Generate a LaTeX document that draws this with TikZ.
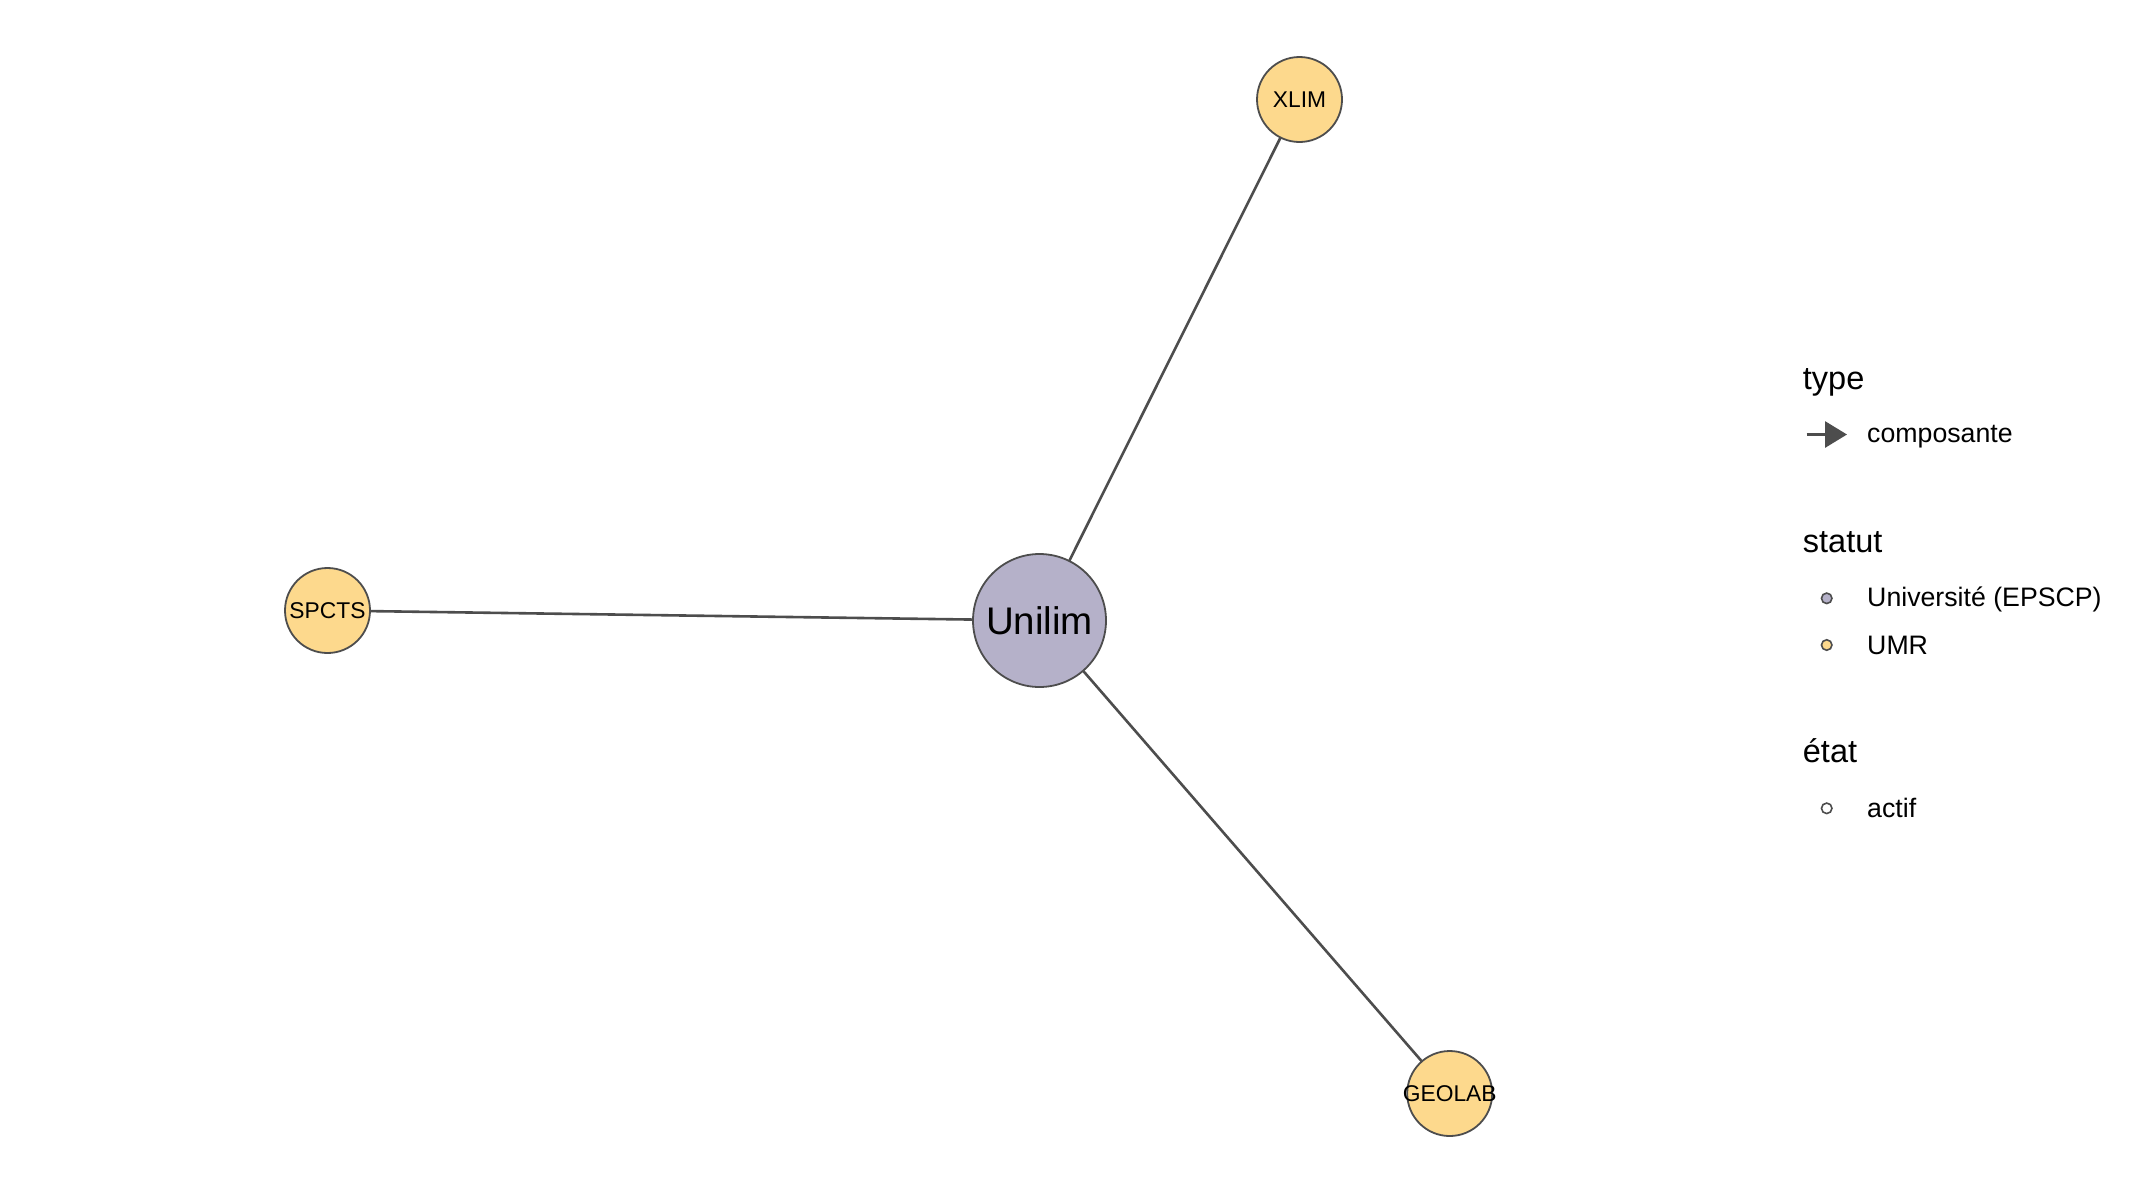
\documentclass[tikz,border=0pt]{standalone}
\usepackage{fontspec}
\setmainfont{Liberation Sans}
\usetikzlibrary{arrows.meta}
\definecolor{edgec}{HTML}{4D4D4D}
\definecolor{univ}{HTML}{B5B1C9}
\definecolor{umr}{HTML}{FDD98D}
\begin{document}
\begin{tikzpicture}[x=1pt,y=-1pt,
  vertex/.style={circle,draw=edgec,line width=1.8pt,inner sep=0pt},
  small/.style={vertex,fill=umr,minimum size=85pt},
  vlabel/.style={font=\fontsize{22.8}{27}\selectfont,text=black},
  link/.style={draw=edgec,line width=2.6pt},
  legtitle/.style={anchor=base west,font=\fontsize{32.5}{38}\selectfont,inner sep=0pt},
  legtext/.style={anchor=base west,font=\fontsize{26.7}{32}\selectfont,inner sep=0pt},
  legdot/.style={circle,draw=edgec,line width=1.6pt,inner sep=0pt,minimum size=10.5pt}]
\useasboundingbox[fill=white] (0,0) rectangle (2132,1200);

% edges
\coordinate (cU) at (1039.5,620.5);
\coordinate (cX) at (1299.5,99.5);
\coordinate (cS) at (327.5,610.5);
\coordinate (cG) at (1449.7,1093.5);
\draw[link] (cU) -- (cX);
\draw[link] (cU) -- (cS);
\draw[link] (cU) -- (cG);

% nodes
\node[vertex,fill=univ,minimum size=133pt,label={[font=\fontsize{38.5}{44}\selectfont]center:Unilim}] (U) at (cU) {};
\node[small,label={[vlabel]center:XLIM}] (X) at (cX) {};
\node[small,label={[vlabel]center:SPCTS}] (S) at (cS) {};
\node[small,label={[vlabel]center:GEOLAB}] (G) at (cG) {};

% legend
\node[legtitle] (t1) at (1802.7,389) {type};
\coordinate (a1) at (1806.5,434.5);
\coordinate (a2) at (1847,434.5);
\draw[draw=edgec,line width=3pt,-{Triangle[length=22pt,width=26pt,fill=edgec]}] (a1) -- (a2);
\node[legtext] (l1) at (1867,442.7) {composante};

\node[legtitle] (t2) at (1802.7,552.7) {statut};
\node[legdot,fill=univ] (d1) at (1826.7,598.3) {};
\node[legtext] (l2) at (1867,606.7) {Université (EPSCP)};
\node[legdot,fill=umr] (d2) at (1826.7,645) {};
\node[legtext] (l3) at (1867,654.3) {UMR};

\node[legtitle] (t3) at (1802.7,762.7) {état};
\node[legdot,fill=white] (d3) at (1826.7,808.3) {};
\node[legtext] (l4) at (1867,817.7) {actif};
\end{tikzpicture}
\end{document}
